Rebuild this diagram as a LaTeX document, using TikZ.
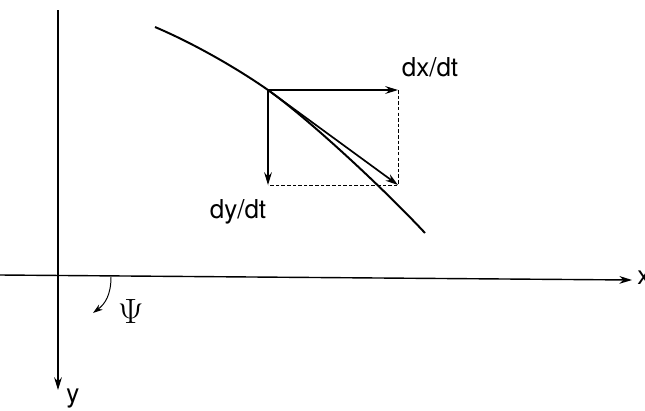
\documentclass[tikz,border=0pt]{standalone}
\usepackage{fontspec}
\setsansfont{TeX Gyre Heros}
\usetikzlibrary{arrows.meta, positioning, calc}

\begin{document}
\begin{tikzpicture}[x=0.025cm, y=-0.025cm, >={Stealth[length=9pt,width=5.5pt]},
    axis/.style={line width=1pt, ->},
    vec/.style={line width=1pt, ->},
    guide/.style={line width=0.6pt, dashed, dash pattern=on 2.5pt off 1.5pt},
    lbl/.style={font=\sffamily\fontsize{18.5}{22}\selectfont, inner sep=0pt}]
    \useasboundingbox (0,0) rectangle (645,410);

    % Axes
    \coordinate (ytop) at (58,10);
    \coordinate (ytip) at (58,390);
    \coordinate (xleft) at (0,275);
    \coordinate (xtip) at (632,280);
    \draw[axis] (ytop) -- (ytip);
    \draw[axis] (xleft) -- (xtip);
    \node[lbl, anchor=base west] (ylabel) at (66,402) {y};
    \node[lbl, anchor=base west] (xlabel) at (637,284) {x};

    % Angle
    \coordinate (psistart) at (111,277);
    \coordinate (psiend) at (93,313);
    \draw[line width=0.7pt, -{Stealth[length=7pt,width=4.5pt]}] (psistart) .. controls (111,295) and (105,304) .. (psiend);
    \node[inner sep=0pt, anchor=base west, font=\rmfamily\fontsize{25}{28}\selectfont] (psi) at (118,323) {Ψ};

    % Trajectory
    \coordinate (ctop) at (155,27);
    \coordinate (P) at (268,90);
    \coordinate (cbot) at (425,233);
    \draw[line width=1.4pt] (ctop) .. controls (195,44) and (238,69) .. (P)
        .. controls (310,120) and (385,190) .. (cbot);

    % Velocity components
    \coordinate (dxend) at (398,90);
    \coordinate (dyend) at (268,185);
    \coordinate (vend) at (398,185);
    \draw[guide] (dxend) -- (vend) -- (dyend);
    \draw[vec] (P) -- (dxend);
    \draw[vec] (P) -- (dyend);
    \draw[vec, line width=1.2pt] (P) -- (vend);
    \node[lbl, anchor=base] (dxlabel) at (430,76) {dx/dt};
    \node[lbl, anchor=base] (dylabel) at (238,218) {dy/dt};
\end{tikzpicture}
\end{document}
